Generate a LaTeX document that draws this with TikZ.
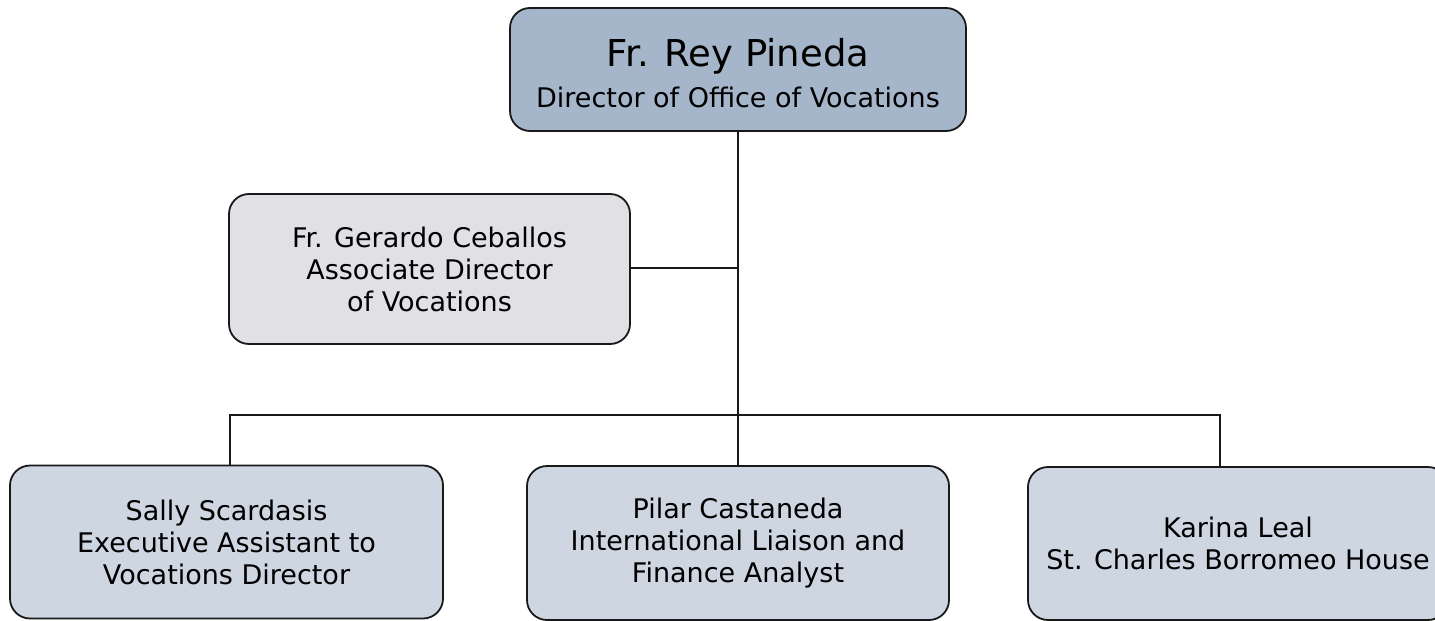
\documentclass[tikz,border=0pt]{standalone}
\usepackage{fontspec}
\setmainfont{DejaVu Sans}
\definecolor{topfill}{RGB}{166,182,202}
\definecolor{assocfill}{RGB}{225,225,229}
\definecolor{stafffill}{RGB}{206,214,225}
\definecolor{edge}{RGB}{25,25,25}
\begin{document}
\begin{tikzpicture}[x=1pt,y=-1pt,
  box/.style={draw=edge, line width=1.8pt, rounded corners=20pt, align=center, inner sep=0pt,
    font=\fontsize{27}{32}\selectfont},
  link/.style={draw=edge, line width=1.8pt}]
\useasboundingbox (0,0) rectangle (1435,621);
\clip (0,0) rectangle (1435,621);
\node[box, fill=topfill, minimum width=456pt, minimum height=123pt] (top) at (738,69.5)
  {{\fontsize{37}{40}\selectfont\rule{0pt}{36pt}Fr. Rey Pineda}\\[9pt]Director of Office of Vocations};
\node[box, fill=assocfill, minimum width=401pt, minimum height=150pt] (assoc) at (429.5,269)
  {Fr. Gerardo Ceballos\\Associate Director\\of Vocations};
\node[box, fill=stafffill, minimum width=433pt, minimum height=153pt] (sally) at (226.5,542)
  {Sally Scardasis\\Executive Assistant to\\Vocations Director};
\node[box, fill=stafffill, minimum width=422pt, minimum height=154pt] (pilar) at (738,543)
  {Pilar Castaneda\\International Liaison and\\Finance Analyst};
\node[box, fill=stafffill, minimum width=420pt, minimum height=153pt] (karina) at (1238,543.5)
  {Karina Leal\\St. Charles Borromeo House};
\coordinate (bus) at (738,415);
\coordinate (mid) at (738,268);
\coordinate (busL) at (230,415);
\coordinate (busR) at (1220,415);
\draw[link] (top.south) -- (bus);
\draw[link] (assoc.east |- mid) -- (mid);
\draw[link] (busL |- sally.north) -- (busL) -- (busR) -- (busR |- karina.north);
\draw[link] (bus) -- (pilar.north);
\end{tikzpicture}
\end{document}
